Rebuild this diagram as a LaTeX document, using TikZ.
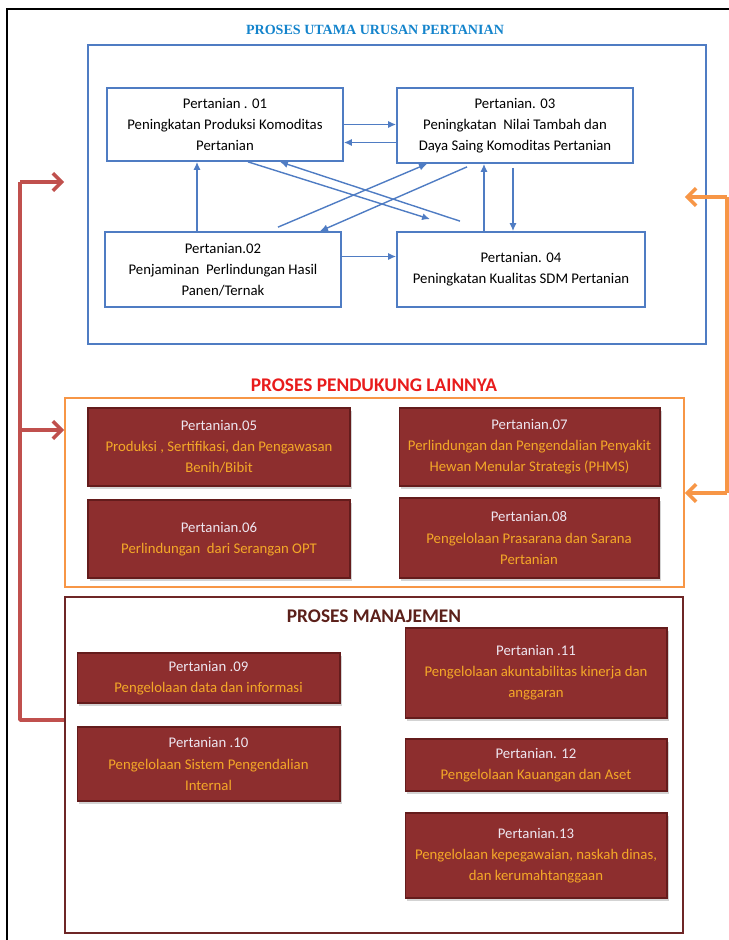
\documentclass[tikz,border=0pt]{standalone}
\usepackage{fontspec}
\setmainfont{Carlito}
\newfontfamily\headserif{Liberation Serif}
\usepackage{tikz}
\usetikzlibrary{arrows.meta, calc, shadows}
\definecolor{flowblue}{RGB}{79,124,195}
\definecolor{headblue}{RGB}{20,132,204}
\definecolor{linkred}{RGB}{192,80,77}
\definecolor{linkorange}{RGB}{247,150,70}
\definecolor{boxred}{RGB}{141,46,46}
\definecolor{boxedge}{RGB}{100,28,28}
\definecolor{boxtext}{RGB}{244,168,40}
\definecolor{boxhead}{RGB}{238,230,240}
\definecolor{mgmtbrown}{RGB}{110,38,38}
\definecolor{headred}{RGB}{232,28,28}
\definecolor{headbrown}{RGB}{92,32,26}

\tikzset{
  mainproc/.style={draw=flowblue, line width=1pt, fill=white, align=center,
    font=\fontsize{8.4}{12}\selectfont, inner sep=1pt},
  subproc/.style={draw=boxedge, line width=0.6pt, fill=boxred, text=boxtext, align=center,
    font=\fontsize{8.4}{12}\selectfont, inner sep=1pt,
    drop shadow={shadow xshift=1.2pt, shadow yshift=-1.8pt, opacity=0.35, fill=gray}},
  groupbox/.style={line width=1.1pt, inner sep=0pt},
  grouphead/.style={font=\bfseries\fontsize{11}{13}\selectfont},
  flow/.style={flowblue, line width=0.8pt, -{Latex[length=4.5pt,width=4pt]}},
  redlink/.style={linkred, line width=2pt},
  orangelink/.style={linkorange, line width=2pt}
}

\begin{document}
\begin{tikzpicture}[x=0.02cm, y=-0.02cm]
\useasboundingbox (0,0) rectangle (729,940);

% frame
\draw[black, line width=1.4pt] (7,940) -- (7,9) -- (729,9);

% group boxes
\node[groupbox, draw=flowblue, minimum width=12.36cm, minimum height=5.98cm] (mainbox) at (397,194.5) {};
\node[groupbox, draw=linkorange, minimum width=12.38cm, minimum height=3.78cm] (supbox) at (374.5,492.5) {};
\node[groupbox, draw=mgmtbrown, minimum width=12.36cm, minimum height=6.72cm] (mgmtbox) at (374,765) {};

\node[font=\headserif\bfseries\fontsize{8}{10}\selectfont, text=headblue] (maintitle) at (375,30) {PROSES UTAMA URUSAN PERTANIAN};
\node[grouphead, text=headred] (suptitle) at (374,385) {PROSES PENDUKUNG LAINNYA};
\node[grouphead, text=headbrown] (mgmttitle) at (374,616) {PROSES MANAJEMEN};

% main process
\node[mainproc, minimum width=4.72cm, minimum height=1.46cm] (p01) at (225,124.5)
  {Pertanian . 01\\Peningkatan Produksi Komoditas\\Pertanian};
\node[mainproc, minimum width=4.72cm, minimum height=1.50cm] (p03) at (515,125.5)
  {Pertanian. 03\\Peningkatan\ \ Nilai Tambah dan\\Daya Saing Komoditas Pertanian};
\node[mainproc, minimum width=4.72cm, minimum height=1.50cm] (p02) at (223,269.5)
  {Pertanian.02\\Penjaminan\ \ Perlindungan Hasil\\Panen/Ternak};
\node[mainproc, minimum width=4.96cm, minimum height=1.50cm] (p04) at (521,269.5)
  {Pertanian. 04\\Peningkatan Kualitas SDM Pertanian};

\draw[flow] (p01.east) coordinate (r13) -- (r13 -| p03.west);
\draw[flow] ($(p03.west)+(0,17)$) coordinate (l31) -- (l31 -| p01.east);
\draw[flow] ($(p02.north)+(-26,0)$) coordinate (u21) -- (u21 |- p01.south);
\draw[flow] ($(p02.east)+(0,-13)$) coordinate (r24) -- (r24 -| p04.west);
\draw[flow] ($(p04.north)+(-37,0)$) coordinate (u43) -- (u43 |- p03.south);
\draw[flow] ($(p03.south)+(-2,4)$) coordinate (d34) -- (d34 |- p04.north);
\draw[flow] ($(p01.south)+(23,0)$) -- ($(p04.north)+(-91,-12)$);
\draw[flow] ($(p04.north)+(-61,-10)$) -- ($(p01.south)+(55,0)$);
\draw[flow] ($(p02.north)+(55,-4)$) -- ($(p03.south)+(-88,0)$);
\draw[flow] ($(p03.south)+(-48,3)$) -- ($(p02.north)+(97,0)$);

% supporting process
\node[subproc, minimum width=5.24cm, minimum height=1.56cm] (p05) at (219,447)
  {{\color{boxhead}Pertanian.05}\\Produksi , Sertifikasi, dan Pengawasan\\Benih/Bibit};
\node[subproc, minimum width=5.22cm, minimum height=1.56cm] (p07) at (529.5,447)
  {{\color{boxhead}Pertanian.07}\\Perlindungan dan Pengendalian Penyakit\\Hewan Menular Strategis (PHMS)};
\node[subproc, minimum width=5.24cm, minimum height=1.56cm] (p06) at (219,539)
  {{\color{boxhead}Pertanian.06}\\Perlindungan\ \ dari Serangan OPT};
\node[subproc, minimum width=5.20cm, minimum height=1.60cm] (p08) at (529,538)
  {{\color{boxhead}Pertanian.08}\\Pengelolaan Prasarana dan Sarana\\Pertanian};

% management
\node[subproc, minimum width=5.26cm, minimum height=1.00cm] (p09) at (208.5,678)
  {{\color{boxhead}Pertanian .09}\\Pengelolaan data dan informasi};
\node[subproc, minimum width=5.26cm, minimum height=1.48cm] (p10) at (208.5,764)
  {{\color{boxhead}Pertanian .10}\\Pengelolaan Sistem Pengendalian\\Internal};
\node[subproc, minimum width=5.24cm, minimum height=1.80cm] (p11) at (536,673)
  {{\color{boxhead}Pertanian .11}\\Pengelolaan akuntabilitas kinerja dan\\anggaran};
\node[subproc, minimum width=5.24cm, minimum height=1.04cm] (p12) at (536,765)
  {{\color{boxhead}Pertanian. 12}\\Pengelolaan Kauangan dan Aset};
\node[subproc, minimum width=5.24cm, minimum height=1.70cm] (p13) at (536,855.5)
  {{\color{boxhead}Pertanian.13}\\Pengelolaan kepegawaian, naskah dinas,\\dan kerumahtanggaan};

% links between groups
\coordinate (redtop) at (20,182);
\coordinate (redmid) at (20,430);
\coordinate (redbot) at (20,720);
\draw[redlink, line join=round] (mgmtbox.west |- redbot) -- (redbot) -- (redtop);
\draw[redlink, -{Straight Barb[length=5pt,width=10pt]}] (redtop) -- (redtop -| supbox.west);
\draw[redlink, -{Straight Barb[length=5pt,width=10pt]}] (redmid) -- (redmid -| supbox.west);

\coordinate (orgtop) at (727,197);
\coordinate (orgbot) at (727,493);
\draw[orangelink] (orgtop) -- (orgbot);
\draw[orangelink, -{Straight Barb[length=5pt,width=10pt]}] (orgtop) -- (orgtop -| supbox.east);
\draw[orangelink, -{Straight Barb[length=5pt,width=10pt]}] (orgbot) -- (orgbot -| supbox.east);
\end{tikzpicture}
\end{document}
